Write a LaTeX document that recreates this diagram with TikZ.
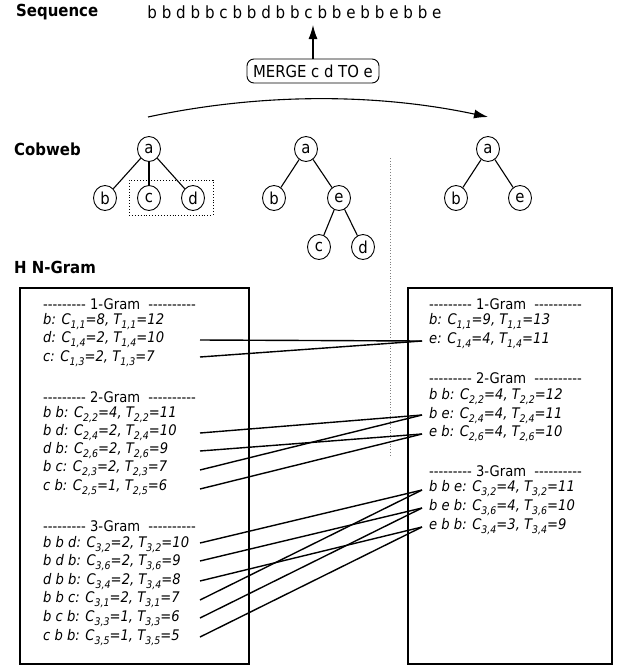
\documentclass[tikz,border=0pt]{standalone}
\usepackage{fontspec}
\setmainfont{DejaVu Sans Condensed}
\usetikzlibrary{arrows.meta,shapes.geometric}
\newcommand\sbs[1]{\raisebox{-0.28em}{\fontsize{10.5}{11}\selectfont #1}}
\newcommand\hy{-\kern0pt}
\newcommand\dnine{\hy\hy\hy\hy\hy\hy\hy\hy\hy}
\newcommand\dten{\hy\hy\hy\hy\hy\hy\hy\hy\hy\hy}
\newcommand\gramhead[1]{\dnine\ #1-Gram\ \ \dten}
\begin{document}
\begin{tikzpicture}[x=1pt,y=-1pt,
  lbl/.style={font=\fontsize{16.6}{19}\selectfont\bfseries, anchor=west, inner sep=0},
  seqtxt/.style={font=\fontsize{16.8}{19}\selectfont, inner sep=0},
  ent/.style={font=\fontsize{14.6}{17}\selectfont\itshape, anchor=west, inner sep=0},
  hdr/.style={font=\fontsize{14.6}{17}\selectfont, anchor=west, inner sep=0},
  tnode/.style={ellipse, draw, line width=0.9pt, minimum width=23pt, minimum height=25pt, inner sep=0, font=\fontsize{16.5}{18}\selectfont},
  tedge/.style={line width=1.1pt},
  panel/.style={draw, line width=1.8pt, inner sep=0, anchor=north west},
  link/.style={line width=1.4pt},
  bigarrow/.style={line width=1.1pt, -{Latex[length=14pt,width=9pt]}}
]
\useasboundingbox (0,0) rectangle (622,667);

% labels
\node[lbl] (lseq) at (16,12) {Sequence};
\node[lbl] (lcob) at (14,149) {Cobweb};
\node[lbl] (lhng) at (14,267) {H N-Gram};

% sequence and merge
\node[seqtxt] (seq) at (294.5,12) {b b d b b c b b d b b c b b e b b e b b e};
\node[draw, rounded corners=7pt, line width=0.9pt, minimum width=132pt, minimum height=24pt, inner sep=0, font=\fontsize{16.5}{18}\selectfont] (merge) at (313,71) {MERGE c d TO e};
\coordinate (seqpt) at (313,25);
\draw[bigarrow] (merge.north) -- (seqpt);

% curved arrow
\coordinate (cs) at (148,117);
\coordinate (ce) at (488,117);
\draw[bigarrow] (cs) .. controls (260,93) and (376,93) .. (ce);

% tree 1
\node[tnode] (a1) at (149,149) {a};
\node[tnode] (b1) at (105,198) {b};
\node[tnode] (c1) at (149,198) {c};
\node[tnode] (d1) at (193,198) {d};
\draw[tedge] (a1) -- (b1);
\draw[tedge] (a1) -- (c1);
\draw[tedge] (a1) -- (d1);
\node[draw, dotted, line width=0.9pt, minimum width=84pt, minimum height=35pt, inner sep=0] (grp) at (171,197.5) {};

% tree 2
\node[tnode] (a2) at (306,149) {a};
\node[tnode] (b2) at (274,198) {b};
\node[tnode] (e2) at (339,198) {e};
\node[tnode] (c2) at (319,247) {c};
\node[tnode] (d2) at (363,247) {d};
\draw[tedge] (a2) -- (b2);
\draw[tedge] (a2) -- (e2);
\draw[tedge] (e2) -- (c2);
\draw[tedge] (e2) -- (d2);

% tree 3
\node[tnode] (a3) at (488,149) {a};
\node[tnode] (b3) at (456,198) {b};
\node[tnode] (e3) at (520,198) {e};
\draw[tedge] (a3) -- (b3);
\draw[tedge] (a3) -- (e3);

% dotted divider
\coordinate (dv1) at (390,158);
\coordinate (dv2) at (390,457);
\draw[dotted, gray, line width=0.8pt] (dv1) -- (dv2);

% panels
\node[panel, minimum width=229pt, minimum height=376pt] (lbox) at (19,287) {};
\node[panel, minimum width=204pt, minimum height=376pt] (rbox) at (407,287) {};

% left entries
\node[hdr] (lh1) at (43,304) {\gramhead{1}};
\node[ent] (l1b) at (43,322) {b: C\sbs{1,1}=8, T\sbs{1,1}=12};
\node[ent] (l1d) at (43,340) {d: C\sbs{1,4}=2, T\sbs{1,4}=10};
\node[ent] (l1c) at (43,359) {c: C\sbs{1,3}=2, T\sbs{1,3}=7};
\node[hdr] (lh2) at (43,397) {\gramhead{2}};
\node[ent] (l2bb) at (43,415) {b b: C\sbs{2,2}=4, T\sbs{2,2}=11};
\node[ent] (l2bd) at (43,433) {b d: C\sbs{2,4}=2, T\sbs{2,4}=10};
\node[ent] (l2db) at (43,451) {d b: C\sbs{2,6}=2, T\sbs{2,6}=9};
\node[ent] (l2bc) at (43,469) {b c: C\sbs{2,3}=2, T\sbs{2,3}=7};
\node[ent] (l2cb) at (43,488) {c b: C\sbs{2,5}=1, T\sbs{2,5}=6};
\node[hdr] (lh3) at (43,526) {\gramhead{3}};
\node[ent] (l3bbd) at (43,545) {b b d: C\sbs{3,2}=2, T\sbs{3,2}=10};
\node[ent] (l3bdb) at (43,563) {b d b: C\sbs{3,6}=2, T\sbs{3,6}=9};
\node[ent] (l3dbb) at (43,582) {d b b: C\sbs{3,4}=2, T\sbs{3,4}=8};
\node[ent] (l3bbc) at (43,600) {b b c: C\sbs{3,1}=2, T\sbs{3,1}=7};
\node[ent] (l3bcb) at (43,619) {b c b: C\sbs{3,3}=1, T\sbs{3,3}=6};
\node[ent] (l3cbb) at (43,638) {c b b: C\sbs{3,5}=1, T\sbs{3,5}=5};

% right entries
\node[hdr] (rh1) at (429,304) {\gramhead{1}};
\node[ent] (r1b) at (429,322) {b: C\sbs{1,1}=9, T\sbs{1,1}=13};
\node[ent] (r1e) at (429,341) {e: C\sbs{1,4}=4, T\sbs{1,4}=11};
\node[hdr] (rh2) at (429,378) {\gramhead{2}};
\node[ent] (r2bb) at (429,397) {b b: C\sbs{2,2}=4, T\sbs{2,2}=12};
\node[ent] (r2be) at (429,416) {b e: C\sbs{2,4}=4, T\sbs{2,4}=11};
\node[ent] (r2eb) at (429,434) {e b: C\sbs{2,6}=4, T\sbs{2,6}=10};
\node[hdr] (rh3) at (429,471) {\gramhead{3}};
\node[ent] (r3bbe) at (429,489) {b b e: C\sbs{3,2}=4, T\sbs{3,2}=11};
\node[ent] (r3beb) at (429,508) {b e b: C\sbs{3,6}=4, T\sbs{3,6}=10};
\node[ent] (r3ebb) at (429,527) {e b b: C\sbs{3,4}=3, T\sbs{3,4}=9};

% connector ends
\coordinate (p1d) at (200,340);
\coordinate (p1c) at (200,357);
\coordinate (p2bd) at (200,433);
\coordinate (p2db) at (200,451);
\coordinate (p2bc) at (200,470);
\coordinate (p2cb) at (200,489);
\coordinate (p3bbd) at (200,543);
\coordinate (p3bdb) at (200,561);
\coordinate (p3dbb) at (200,581);
\coordinate (p3bbc) at (200,600);
\coordinate (p3bcb) at (200,618);
\coordinate (p3cbb) at (200,637);
\coordinate (q1e) at (422,341);
\coordinate (q2be) at (422,415);
\coordinate (q2eb) at (422,434);
\coordinate (q3bbe) at (422,490);
\coordinate (q3beb) at (422,508);
\coordinate (q3ebb) at (422,527);

\draw[link] (p1d) -- (q1e);
\draw[link] (p1c) -- (q1e);
\draw[link] (p2bd) -- (q2be);
\draw[link] (p2db) -- (q2eb);
\draw[link] (p2bc) -- (q2be);
\draw[link] (p2cb) -- (q2eb);
\draw[link] (p3bbd) -- (q3bbe);
\draw[link] (p3bdb) -- (q3beb);
\draw[link] (p3dbb) -- (q3ebb);
\draw[link] (p3bbc) -- (q3bbe);
\draw[link] (p3bcb) -- (q3beb);
\draw[link] (p3cbb) -- (q3ebb);
\end{tikzpicture}
\end{document}
